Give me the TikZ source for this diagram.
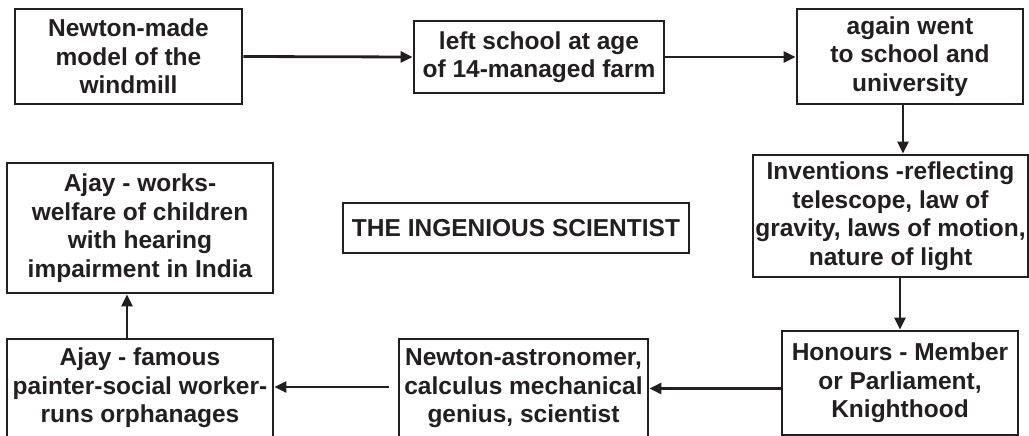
\documentclass[tikz,border=0pt]{standalone}
\usepackage{fontspec}
\setmainfont{Liberation Sans}
\usetikzlibrary{arrows.meta}
\definecolor{ink}{HTML}{231F20}
\tikzset{
  box/.style={draw=ink, line width=2.8pt, text=ink, inner sep=0pt, align=center,
    font=\fontsize{24.5pt}{28.5pt}\selectfont\bfseries},
  conn/.style={draw=ink, line width=2.8pt, -{Triangle[length=12pt,width=11pt]}}
}
\begin{document}
\begin{tikzpicture}[x=1pt,y=-1pt]
\clip (0,0) rectangle (1029,436);
\fill[white] (0,0) rectangle (1029,436);
\node[box, minimum width=227pt, minimum height=95pt] (b1) at (128.5,56.5) {Newton-made\\model of the\\windmill};
\node[box, minimum width=250pt, minimum height=72pt] (b2) at (539,57) {left school at age\\of 14-managed farm};
\node[box, minimum width=226pt, minimum height=95pt] (b3) at (910,56.5) {again went\\to school and\\university};
\node[box, minimum width=275pt, minimum height=122pt] (b4) at (890.5,216) {Inventions -reflecting\\telescope, law of\\gravity, laws of motion,\\nature of light};
\node[box, minimum width=236pt, minimum height=104pt] (b5) at (900,383) {Honours - Member\\or Parliament,\\Knighthood};
\node[box, minimum width=249pt, minimum height=99pt] (b6) at (523.5,388.5) {Newton-astronomer,\\calculus mechanical\\genius, scientist};
\node[box, minimum width=266pt, minimum height=98pt] (b7) at (140,388) {Ajay - famous\\painter-social worker-\\runs orphanages};
\node[box, minimum width=266pt, minimum height=130pt] (b8) at (140,228) {Ajay - works-\\welfare of children\\with hearing\\impairment in India};
\node[box, minimum width=346pt, minimum height=50pt] (title) at (516,228) {THE INGENIOUS SCIENTIST};

\draw[conn] (b1.east) -- (b2.west);
\draw[conn] (b2.east) -- (b2.east -| b3.west);
\draw[conn] ([xshift=-7pt]b3.south) -- ([xshift=-7pt]b3.south |- b4.north);
\draw[conn] (b4.south -| b5.north) -- (b5.north);
\draw[conn] (b5.west |- b6.east) -- (b6.east);
\draw[conn, shorten <=9pt] ([yshift=1.5pt]b6.west) -- ([yshift=1.5pt]b6.west -| b7.east);
\draw[conn] ([xshift=-13pt]b7.north) -- ([xshift=-13pt]b7.north |- b8.south);
\end{tikzpicture}
\end{document}
